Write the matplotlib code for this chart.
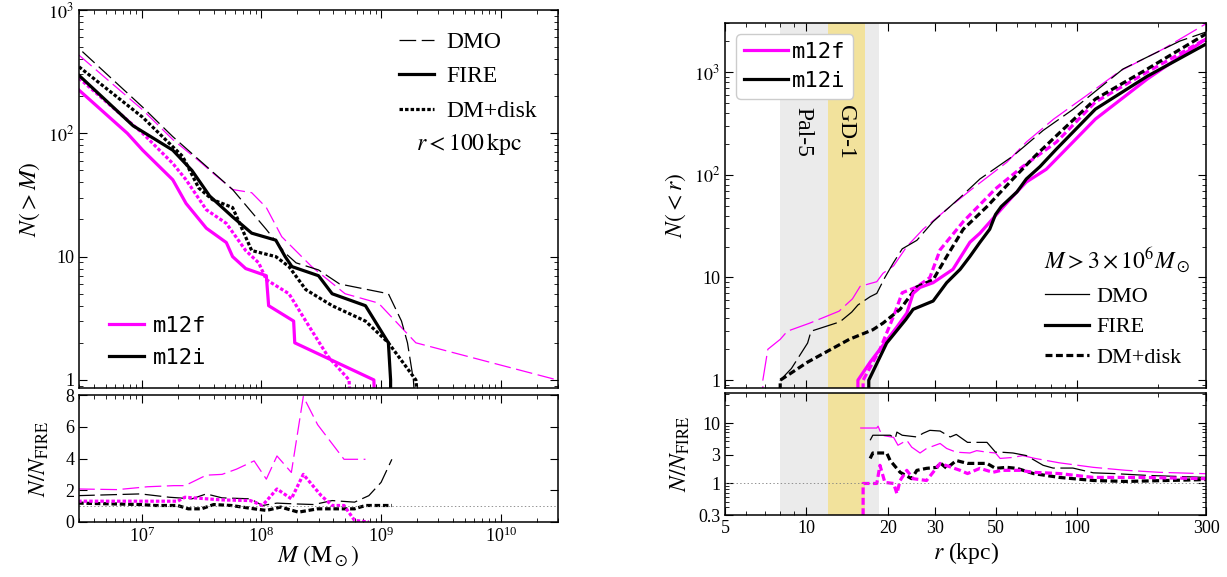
import matplotlib
matplotlib.use("Agg")
import matplotlib.pyplot as plt
import numpy as np
from matplotlib.lines import Line2D
from matplotlib import ticker

plt.rcParams['font.family'] = ['Liberation Serif', 'DejaVu Serif']
plt.rcParams['mathtext.fontset'] = 'stix'
plt.rcParams['lines.scale_dashes'] = False
plt.rcParams['xtick.direction'] = 'in'
plt.rcParams['ytick.direction'] = 'in'
plt.rcParams['xtick.top'] = True
plt.rcParams['ytick.right'] = True
plt.rcParams['xtick.major.size'] = 6
plt.rcParams['ytick.major.size'] = 6
plt.rcParams['xtick.minor.size'] = 3
plt.rcParams['ytick.minor.size'] = 3
plt.rcParams['axes.linewidth'] = 1.1
plt.rcParams['xtick.labelsize'] = 13
plt.rcParams['ytick.labelsize'] = 13

MAG = '#ff00ff'

# ---------------- left: N(>M) for r < 100 kpc ----------------
m12f_dmo_M = [3.0e6, 1.02e7, 1.82e7, 3.0e7, 3.9e7, 5.75e7, 8.3e7, 1.1e8, 1.48e8, 2.63e8, 5.0e8, 9.5e8, 1.95e9, 2.95e10]
m12f_dmo_N = [430, 155, 89, 60, 48, 35, 33, 25, 14.5, 8.3, 5.0, 4.2, 2, 1]
m12i_dmo_M = [3.2e6, 1.02e7, 1.82e7, 3.47e7, 5.75e7, 1.1e8, 1.58e8, 1.95e8, 3.0e8, 4.5e8, 1.15e9, 1.48e9, 1.66e9, 1.86e9, 1.95e9]
m12i_dmo_N = [460, 163, 94, 54, 35, 16.6, 10.7, 8.9, 7.8, 6, 5, 3, 2, 1, 0.5]
m12i_fire_M = [3.0e6, 8.5e6, 1.82e7, 2.63e7, 3.7e7, 5.75e7, 8.3e7, 1.32e8, 1.58e8, 1.8e8, 3.0e8, 3.9e8, 7.4e8, 1.15e9, 1.2e9, 1.2e9]
m12i_fire_N = [295, 115, 73, 50, 31, 21, 15.5, 13.6, 10, 8.3, 7, 5, 4, 2, 1, 0.5]
m12i_disk_M = [3.0e6, 1.02e7, 2.2e7, 3.0e7, 3.9e7, 5.75e7, 8.3e7, 1.32e8, 1.7e8, 2.35e8, 3.9e8, 7.4e8, 1.15e9, 1.95e9, 2.1e9]
m12i_disk_N = [346, 135, 65, 36, 29, 25, 11.2, 10, 8.3, 5.4, 4, 3, 2, 1, 0.5]
m12f_fire_M = [3.0e6, 7.6e6, 1.02e7, 1.82e7, 2.35e7, 3.47e7, 5.1e7, 5.75e7, 7.4e7, 1.1e8, 1.15e8, 1.86e8, 1.9e8, 8.7e8, 8.9e8]
m12f_fire_N = [224, 100, 73, 42, 27, 17, 13, 10, 8, 7, 4, 3, 2, 1, 0.5]
m12f_disk_M = [3.0e6, 1.02e7, 1.82e7, 2.35e7, 3.47e7, 5.1e7, 7.4e7, 9.5e7, 1.1e8, 1.7e8, 2.35e8, 3.6e8, 5.4e8, 5.6e8]
m12f_disk_N = [280, 100, 57, 42, 24, 18.6, 11.2, 8.9, 6.5, 5, 3, 1.55, 1, 0.5]

# ratios N / N_FIRE versus M
rm_f_dmo_M = [2.95e6, 6.3e6, 1.12e7, 1.86e7, 2.3e7, 3.47e7, 4.7e7, 6.2e7, 8.7e7, 1.1e8, 1.35e8, 1.78e8, 2.24e8, 2.95e8, 4.9e8, 7.4e8]
rm_f_dmo = [2.08, 2.04, 2.22, 2.29, 2.29, 2.95, 3.0, 3.33, 3.85, 2.70, 4.16, 3.12, 7.9, 6.13, 3.95, 3.95]
rm_i_dmo_M = [2.95e6, 9.8e6, 1.7e7, 2.63e7, 3.47e7, 4.7e7, 8.1e7, 1.02e8, 1.35e8, 1.9e8, 2.75e8, 3.9e8, 6.0e8, 7.9e8, 1.0e9, 1.23e9]
rm_i_dmo = [1.66, 1.77, 1.56, 1.46, 1.77, 1.52, 1.46, 1.04, 1.19, 1.14, 1.10, 1.35, 1.25, 1.66, 2.5, 3.95]
rm_i_disk_M = [2.95e6, 9.8e6, 1.29e7, 2.0e7, 2.45e7, 3.16e7, 4.0e7, 5.6e7, 8.7e7, 1.1e8, 1.45e8, 2.04e8, 2.95e8, 6.0e8, 7.4e8, 1.23e9]
rm_i_disk = [1.19, 1.10, 1.04, 1.04, 0.83, 0.83, 1.10, 1.04, 0.83, 0.73, 0.94, 0.62, 0.83, 0.83, 1.04, 1.04]
rm_f_disk_M = [2.95e6, 1.12e7, 2.0e7, 2.3e7, 4.7e7, 8.1e7, 1.02e8, 1.35e8, 1.78e8, 2.24e8, 3.16e8, 3.9e8, 4.9e8, 6.0e8, 7.9e8]
rm_f_disk = [1.31, 1.31, 1.31, 1.56, 1.39, 1.35, 1.04, 2.08, 1.46, 3.0, 1.66, 1.04, 1.04, 0.1, 0.0]

# ---------------- right: N(<r) for M > 3e6 Msun ----------------
rf_dmo_r = [6.9, 6.9, 7.2, 8.0, 8.5, 10.3, 13.2, 14.8, 15.8, 18.2, 19.2, 21, 23.5, 27, 33, 41, 55, 65, 82, 108, 144, 208, 300]
rf_dmo_N = [0.5, 1, 2, 2.5, 3, 3.6, 4.7, 6.2, 8.2, 9.1, 11, 13, 20, 29.5, 46, 73, 132, 208, 348, 585, 1020, 1670, 2950]
ri_dmo_r = [8.0, 8.0, 8.8, 10.1, 10.4, 13.3, 14.7, 15.5, 17.2, 18.2, 19.5, 21, 22.6, 25.6, 29.4, 37, 43.8, 58, 75, 97, 148, 240, 300]
ri_dmo_N = [0.5, 1, 1.3, 2.3, 3, 3.7, 4.6, 5.4, 6.5, 7, 10, 14, 19, 23, 35, 60, 91, 152, 270, 435, 1070, 2000, 2450]
ri_disk_r = [8.0, 8.0, 10.1, 11.9, 14.4, 17.6, 19.2, 22.2, 25.6, 29.4, 33, 38, 46.5, 58, 70, 84, 117, 182, 300]
ri_disk_N = [0.5, 1, 1.5, 1.9, 2.5, 3.1, 3.6, 4.9, 8.1, 9.5, 16, 29.5, 49, 91, 152, 240, 545, 1070, 2350]
rf_disk_r = [16.2, 16.2, 18.7, 21, 22.6, 25.6, 28.6, 31.2, 38, 50, 63, 84, 117, 182, 300]
rf_disk_N = [0.5, 1, 2, 4.2, 7.1, 8.1, 10, 18.6, 35, 73, 120, 208, 510, 1000, 2100]
ri_fire_r = [17, 17, 19.8, 23.3, 24.8, 29.4, 33, 37, 40.2, 43.8, 47.6, 50, 52.5, 60, 65, 73, 84, 117, 182, 300]
ri_fire_N = [0.5, 1, 2.3, 3.9, 4.9, 5.9, 8.9, 12, 16, 22, 29.5, 41, 49, 68, 91, 120, 178, 435, 910, 1870]
rf_fire_r = [15.5, 15.5, 17.2, 21.6, 23.5, 24.8, 26.3, 29.4, 34.8, 40.2, 43.8, 50, 58, 65, 77, 86, 117, 182, 300]
rf_fire_N = [0.5, 1, 1.5, 3.3, 4.5, 7.0, 8.0, 8.9, 12, 22, 27, 40, 62, 85, 113, 152, 348, 855, 2100]

# ratios N / N_FIRE versus r
rr_f_dmo_r = [15.8, 18.2, 18.4, 19, 21, 21.8, 23.5, 24.5, 26.3, 27.8, 31.2, 33, 35.8, 40.2, 42.6, 46.5, 50, 52, 58, 63, 70, 86, 115, 152, 202, 300]
rr_f_dmo = [8.3, 8.3, 8.9, 6.3, 5.8, 4.3, 5.2, 4.0, 3.2, 3.8, 4.6, 3.8, 3.3, 3.2, 3.5, 3.3, 3.2, 2.6, 2.7, 2.9, 2.6, 2.2, 1.85, 1.65, 1.53, 1.45]
rr_i_dmo_r = [17.2, 17.6, 20.4, 21.3, 21.6, 22.6, 25.6, 27, 28.6, 31.2, 34, 35.8, 39.4, 42.6, 46.5, 50, 52.5, 58, 65, 75, 81.6, 96.6, 115, 136, 182, 300]
rr_i_dmo = [5.2, 6.3, 6.3, 5.6, 7.1, 6.3, 5.9, 6.8, 7.6, 7.4, 5.9, 6.5, 4.8, 4.8, 4.8, 3.3, 3.3, 3.2, 2.9, 2.0, 1.8, 1.8, 1.5, 1.46, 1.36, 1.26]
rr_i_disk_r = [17.2, 17.6, 19.8, 20.4, 22.2, 24.5, 25.6, 27.8, 30.4, 31.2, 33, 35.8, 39.4, 42.6, 46.5, 50, 55, 60, 69, 86, 115, 152, 300]
rr_i_disk = [2.6, 3.2, 3.2, 2.4, 1.53, 1.2, 1.65, 1.78, 1.85, 2.2, 1.78, 2.4, 2.15, 2.15, 2.15, 1.78, 1.85, 1.78, 1.46, 1.26, 1.12, 1.08, 1.16]
rr_f_disk_r = [16.2, 16.2, 18.2, 18.7, 19.5, 21, 21.6, 22.2, 23.5, 24.8, 27.8, 31.2, 37, 39.4, 43.8, 48.9, 52.5, 61.6, 69, 86, 115, 176, 300]
rr_f_disk = [0.2, 1.0, 1.0, 2.0, 1.04, 1.0, 0.68, 1.12, 1.65, 1.2, 1.12, 2.15, 1.65, 1.46, 1.78, 1.53, 1.65, 1.65, 1.53, 1.46, 1.26, 1.26, 1.2]

# stream regions (kpc)
pal5_band = (8.0, 18.6)
gd1_band = (12.0, 16.5)

W, H = 1227, 577
fig = plt.figure(figsize=(W / 100, H / 100), dpi=100)


def box(x0, y0, x1, y1):
    return [x0 / W, 1 - y1 / H, (x1 - x0) / W, (y1 - y0) / H]


ax1 = fig.add_axes(box(79, 10, 558, 388))
ax2 = fig.add_axes(box(79, 395, 558, 522))
ax3 = fig.add_axes(box(725, 23, 1206, 388))
ax4 = fig.add_axes(box(725, 393, 1206, 515))

thin = 0.9
thick = 2.3
L_DMO = (12, 4)
L_DISK = (2.5, 1.5)
R_DMO = (18, 4)
R_DISK = (5, 2.5)

# ---- left top
ax1.plot(m12f_dmo_M, m12f_dmo_N, color=MAG, lw=thin, dashes=L_DMO)
ax1.plot(m12i_dmo_M, m12i_dmo_N, color='k', lw=thin, dashes=L_DMO)
ax1.plot(m12f_disk_M, m12f_disk_N, color=MAG, lw=thick, dashes=L_DISK)
ax1.plot(m12i_disk_M, m12i_disk_N, color='k', lw=thick, dashes=L_DISK)
ax1.plot(m12f_fire_M, m12f_fire_N, color=MAG, lw=thick)
ax1.plot(m12i_fire_M, m12i_fire_N, color='k', lw=thick)
ax1.set_xscale('log')
ax1.set_yscale('log')
ax1.set_xlim(3e6, 3e10)
ax1.set_ylim(0.86, 1000)
ax1.yaxis.set_major_locator(ticker.FixedLocator([1, 10, 100, 1000]))
ax1.yaxis.set_major_formatter(ticker.FixedFormatter(['1', '10', '$10^2$', '$10^3$']))
ax1.yaxis.set_minor_locator(ticker.LogLocator(subs=np.arange(2, 10), numticks=20))
ax1.yaxis.set_minor_formatter(ticker.NullFormatter())
ax1.xaxis.set_minor_locator(ticker.LogLocator(subs=np.arange(2, 10), numticks=20))
ax1.tick_params(labelbottom=False)
ax1.set_ylabel(r'$N(>M)$', fontsize=17)

h_style = [Line2D([], [], color='k', lw=thin, dashes=L_DMO),
           Line2D([], [], color='k', lw=thick),
           Line2D([], [], color='k', lw=thick, dashes=L_DISK)]
leg = ax1.legend(h_style, ['DMO', 'FIRE', 'DM+disk'], loc='upper right', frameon=False,
                 fontsize=17, handlelength=1.5, handletextpad=0.5, labelspacing=0.55,
                 borderaxespad=0.5)
ax1.add_artist(leg)
ax1.text(0.815, 0.645, r'$r < 100\,\mathrm{kpc}$', transform=ax1.transAxes, ha='center',
         va='center', fontsize=17)
h_sim = [Line2D([], [], color=MAG, lw=thick), Line2D([], [], color='k', lw=thick)]
ax1.legend(h_sim, ['m12f', 'm12i'], loc='lower left', bbox_to_anchor=(0.02, 0.0), frameon=False,
           prop={'family': 'DejaVu Sans Mono', 'size': 16}, handlelength=1.6,
           handletextpad=0.4, labelspacing=0.55)

# ---- left bottom
ax2.plot(rm_f_dmo_M, rm_f_dmo, color=MAG, lw=thin, dashes=L_DMO)
ax2.plot(rm_i_dmo_M, rm_i_dmo, color='k', lw=thin, dashes=L_DMO)
ax2.plot(rm_i_disk_M, rm_i_disk, color='k', lw=thick, dashes=(4, 2))
ax2.plot(rm_f_disk_M, rm_f_disk, color=MAG, lw=thick, dashes=L_DISK)
ax2.axhline(1, color='gray', lw=0.6, ls=':')
ax2.set_xscale('log')
ax2.set_xlim(3e6, 3e10)
ax2.set_ylim(0, 8)
ax2.set_yticks([0, 2, 4, 6, 8])
ax2.xaxis.set_minor_locator(ticker.LogLocator(subs=np.arange(2, 10), numticks=20))
ax2.set_xlabel(r'$M\ (\mathrm{M}_\odot)$', fontsize=17, labelpad=-2)
ax2.set_ylabel(r'$N/N_{\mathrm{FIRE}}$', fontsize=17, labelpad=10)

# ---- right panels: bands
for ax in (ax3, ax4):
    ax.axvspan(*pal5_band, color='#ebebeb', lw=0, zorder=0)
    ax.axvspan(*gd1_band, color='#f2e29c', lw=0, zorder=0)

ax3.plot(rf_dmo_r, rf_dmo_N, color=MAG, lw=thin, dashes=R_DMO)
ax3.plot(ri_dmo_r, ri_dmo_N, color='k', lw=thin, dashes=R_DMO)
ax3.plot(rf_disk_r, rf_disk_N, color=MAG, lw=thick, dashes=R_DISK)
ax3.plot(ri_disk_r, ri_disk_N, color='k', lw=thick, dashes=R_DISK)
ax3.plot(rf_fire_r, rf_fire_N, color=MAG, lw=thick)
ax3.plot(ri_fire_r, ri_fire_N, color='k', lw=thick)
ax3.set_xscale('log')
ax3.set_yscale('log')
ax3.set_xlim(5, 300)
ax3.set_ylim(0.84, 3000)
ax3.yaxis.set_major_locator(ticker.FixedLocator([1, 10, 100, 1000]))
ax3.yaxis.set_major_formatter(ticker.FixedFormatter(['1', '10', '$10^2$', '$10^3$']))
ax3.yaxis.set_minor_locator(ticker.LogLocator(subs=np.arange(2, 10), numticks=20))
ax3.yaxis.set_minor_formatter(ticker.NullFormatter())
ax3.set_ylabel(r'$N(<r)$', fontsize=17, labelpad=4)
ax3.text(9.7, 260, 'Pal-5', rotation=270, ha='center', va='center', fontsize=17)
ax3.text(13.9, 260, 'GD-1', rotation=270, ha='center', va='center', fontsize=17)

leg3 = ax3.legend(h_sim, ['m12f', 'm12i'], loc='upper left', bbox_to_anchor=(0.0, 1.0),
                  prop={'family': 'DejaVu Sans Mono', 'size': 16}, handlelength=2.0,
                  handletextpad=0.15, labelspacing=0.4, borderpad=0.35, framealpha=1,
                  edgecolor='#cccccc', fancybox=True)
ax3.add_artist(leg3)
ax3.text(0.815, 0.35, r'$M > 3\times10^6 M_\odot$', transform=ax3.transAxes, ha='center',
         va='center', fontsize=17)
h_style_r = [Line2D([], [], color='k', lw=thin),
             Line2D([], [], color='k', lw=thick),
             Line2D([], [], color='k', lw=thick, dashes=R_DISK)]
ax3.legend(h_style_r, ['DMO', 'FIRE', 'DM+disk'], loc='lower right', bbox_to_anchor=(0.99, 0.0),
           frameon=False, fontsize=16, handlelength=2.0, handletextpad=0.3, labelspacing=0.45)

# ---- right bottom
ax4.plot(rr_f_dmo_r, rr_f_dmo, color=MAG, lw=thin, dashes=R_DMO)
ax4.plot(rr_i_dmo_r, rr_i_dmo, color='k', lw=thin, dashes=R_DMO)
ax4.plot(rr_i_disk_r, rr_i_disk, color='k', lw=thick, dashes=R_DISK)
ax4.plot(rr_f_disk_r, rr_f_disk, color=MAG, lw=thick, dashes=R_DISK)
ax4.axhline(1, color='gray', lw=0.6, ls=':')
ax4.set_xscale('log')
ax4.set_yscale('log')
ax4.set_xlim(5, 300)
ax4.set_ylim(0.3, 31.6)
ax4.yaxis.set_major_locator(ticker.FixedLocator([0.3, 1, 3, 10]))
ax4.yaxis.set_major_formatter(ticker.FixedFormatter(['0.3', '1', '3', '10']))
ax4.yaxis.set_minor_locator(ticker.LogLocator(subs=np.arange(2, 10), numticks=20))
ax4.yaxis.set_minor_formatter(ticker.NullFormatter())
ax4.set_ylabel(r'$N/N_{\mathrm{FIRE}}$', fontsize=17)
ax4.set_xlabel(r'$r$ (kpc)', fontsize=17, labelpad=2)

r_ticks = [5, 10, 20, 30, 50, 100, 300]
for ax in (ax3, ax4):
    ax.xaxis.set_major_locator(ticker.FixedLocator(r_ticks))
    ax.xaxis.set_major_formatter(ticker.FixedFormatter([str(t) for t in r_ticks]))
    ax.xaxis.set_minor_locator(ticker.FixedLocator([6, 7, 8, 9, 40, 60, 70, 80, 90, 200]))
    ax.xaxis.set_minor_formatter(ticker.NullFormatter())
ax3.tick_params(labelbottom=False)

fig.savefig('out.png', dpi=100)
